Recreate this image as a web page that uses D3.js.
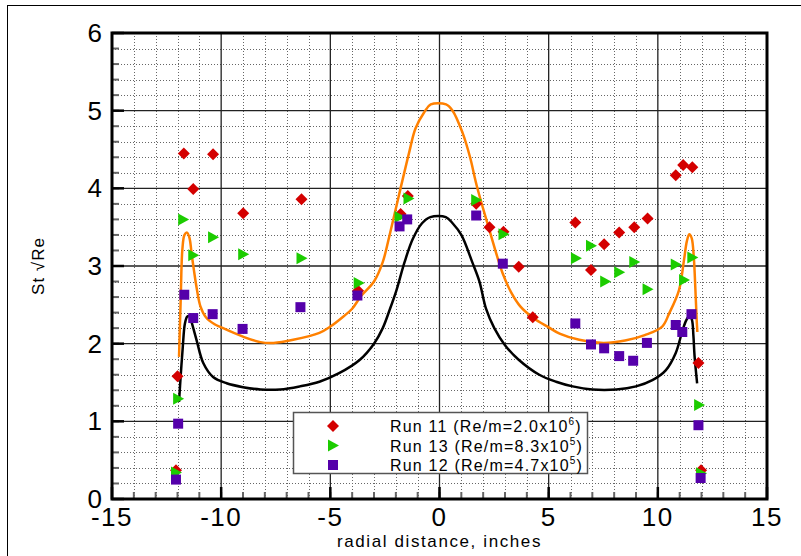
<!DOCTYPE html>
<html>
<head>
<meta charset="utf-8">
<script src="https://cdn.jsdelivr.net/npm/d3@7"></script>
<style>
  html, body { margin: 0; padding: 0; background: #fff; }
  svg { display: block; font-family: "Liberation Sans", Arial, sans-serif; }
  .tick-label { font-size: 26px; fill: #000; }
  .axis-title { font-size: 17px; fill: #000; letter-spacing: 1.6px; }
  .legend-text { font-size: 16px; fill: #000; letter-spacing: 1.2px; }
</style>
</head>
<body>
<div id="chart"></div>
<script>
// measured points, [radial distance (in), St*sqrt(Re)]
const run11 = [
  [-12.07, 0.37], [-12.0, 1.58], [-11.71, 4.45], [-11.28, 3.99], [-10.37, 4.44],
  [-8.99, 3.68], [-6.32, 3.86], [-3.73, 2.68], [-1.78, 3.67], [-1.45, 3.90],
  [1.68, 3.80], [2.29, 3.50], [2.93, 3.44], [3.63, 2.99], [4.27, 2.34],
  [6.22, 3.56], [6.94, 2.95], [7.54, 3.28], [8.23, 3.43], [8.92, 3.50],
  [9.53, 3.61], [10.82, 4.17], [11.16, 4.30], [11.58, 4.27], [11.86, 1.75],
  [11.98, 0.37]
];

const run13 = [
  [-12.07, 0.34], [-11.97, 1.29], [-11.74, 3.60], [-11.28, 3.14], [-10.37, 3.37],
  [-8.99, 3.15], [-6.32, 3.10], [-3.70, 2.78], [-1.83, 3.63], [-1.42, 3.87],
  [1.68, 3.85], [2.93, 3.41], [6.25, 3.10], [6.94, 3.26], [7.59, 2.80],
  [8.23, 2.92], [8.92, 3.05], [9.53, 2.70], [10.82, 3.02], [11.20, 2.82],
  [11.58, 3.11], [11.89, 1.21], [11.98, 0.33]
];

const run12 = [
  [-12.07, 0.25], [-11.97, 0.97], [-11.69, 2.63], [-11.28, 2.33], [-10.39, 2.38],
  [-9.02, 2.19], [-6.37, 2.47], [-3.76, 2.62], [-1.83, 3.51], [-1.48, 3.60],
  [1.68, 3.65], [2.90, 3.03], [6.22, 2.26], [6.94, 1.99], [7.54, 1.94],
  [8.23, 1.84], [8.87, 1.78], [9.50, 2.01], [10.82, 2.24], [11.12, 2.15],
  [11.54, 2.38], [11.86, 0.95], [11.96, 0.27]
];

// prediction curves
const orangeCurve = [
  [-11.93, 1.83], [-11.85, 2.6], [-11.78, 3.2], [-11.68, 3.40], [-11.56, 3.43],
  [-11.45, 3.36], [-11.35, 3.15], [-11.25, 2.95], [-11.13, 2.73], [-10.95, 2.48],
  [-10.7, 2.34], [-10.3, 2.25], [-10.0, 2.21], [-9.0, 2.09], [-8.2, 2.02],
  [-7.6, 2.01], [-6.7, 2.05], [-5.5, 2.14], [-5.0, 2.22], [-4.4, 2.35],
  [-4.0, 2.45], [-3.6, 2.61], [-3.0, 2.80], [-2.6, 3.05], [-2.3, 3.38],
  [-1.8, 3.98], [-1.4, 4.45], [-1.1, 4.77], [-0.7, 4.98], [-0.4, 5.08],
  [0.3, 5.08], [0.6, 5.00], [1.05, 4.72], [1.4, 4.40], [1.7, 4.04],
  [2.3, 3.45], [2.9, 2.90], [3.3, 2.65], [3.7, 2.48], [4.3, 2.33],
  [5.0, 2.21], [5.5, 2.13], [6.4, 2.05], [7.5, 2.01], [8.5, 2.04],
  [9.4, 2.11], [10.2, 2.22], [10.52, 2.39], [10.97, 2.69], [11.2, 3.08],
  [11.33, 3.32], [11.44, 3.41], [11.55, 3.36], [11.65, 3.1], [11.72, 2.7],
  [11.78, 2.3], [11.81, 2.15]
];

const blackCurve = [
  [-11.93, 1.25], [-11.85, 1.6], [-11.76, 1.95], [-11.66, 2.26], [-11.55, 2.35],
  [-11.45, 2.35], [-11.36, 2.28], [-11.13, 2.05], [-10.82, 1.75], [-10.37, 1.57],
  [-9.75, 1.49], [-9.0, 1.44], [-8.2, 1.41], [-7.3, 1.41], [-6.4, 1.45],
  [-5.5, 1.51], [-4.6, 1.62], [-3.66, 1.79], [-3.0, 2.0], [-2.6, 2.20],
  [-2.29, 2.43], [-1.98, 2.68], [-1.6, 3.05], [-1.22, 3.35], [-0.8, 3.55],
  [-0.42, 3.63], [0.29, 3.63], [0.6, 3.55], [1.0, 3.40], [1.5, 3.05],
  [1.83, 2.80], [2.13, 2.45], [2.51, 2.20], [3.0, 1.98], [3.6, 1.80],
  [4.57, 1.60], [5.34, 1.51], [6.1, 1.45], [7.0, 1.41], [8.1, 1.41],
  [9.0, 1.45], [9.75, 1.53], [10.37, 1.66], [10.82, 1.88], [11.13, 2.17],
  [11.3, 2.30], [11.45, 2.36], [11.56, 2.31], [11.63, 2.1], [11.68, 1.85],
  [11.8, 1.49]
];

const xMajorTicks = [-15, -10, -5, 0, 5, 10, 15];
const yMajorTicks = [0, 1, 2, 3, 4, 5, 6];

const legendRows = [
  { label: "Run 11 (Re/m=2.0x10", exp: "6", shape: "diamond", color: "#d40000" },
  { label: "Run 13 (Re/m=8.3x10", exp: "5", shape: "triangle", color: "#1ccc00" },
  { label: "Run 12 (Re/m=4.7x10", exp: "5", shape: "square", color: "#5500aa" }
];

function drawChart() {
  const width = 801;
  const height = 556;
  const margin = { top: 33, right: 34, bottom: 57, left: 112 };

  const x = d3.scaleLinear().domain([-15, 15]).range([margin.left, width - margin.right]);
  const y = d3.scaleLinear().domain([0, 6]).range([height - margin.bottom, margin.top]);

  const svg = d3.select("#chart").append("svg")
    .attr("width", width)
    .attr("height", height);

  // page frame
  svg.append("rect")
    .attr("x", 7.5).attr("y", 5.5)
    .attr("width", width).attr("height", height)
    .attr("fill", "none").attr("stroke", "#000");

  const grid = svg.append("g");

  // minor dotted grid
  grid.selectAll(".minor-x")
    .data(d3.range(-14, 15, 1).filter(function (v) { return v % 5 !== 0; }))
    .join("line")
    .attr("x1", function (d) { return Math.round(x(d)) + 0.5; })
    .attr("x2", function (d) { return Math.round(x(d)) + 0.5; })
    .attr("y1", y(6)).attr("y2", y(0))
    .attr("stroke", "#666").attr("stroke-dasharray", "1,2");

  grid.selectAll(".minor-y")
    .data(d3.range(1, 30).map(function (i) { return i * 0.2; }).filter(function (v, i) { return (i + 1) % 5 !== 0; }))
    .join("line")
    .attr("x1", x(-15)).attr("x2", x(15))
    .attr("y1", function (d) { return Math.round(y(d)) + 0.5; })
    .attr("y2", function (d) { return Math.round(y(d)) + 0.5; })
    .attr("stroke", "#666").attr("stroke-dasharray", "1,2");

  // major grid
  grid.selectAll(".major-x")
    .data([-10, -5, 0, 5, 10])
    .join("line")
    .attr("x1", function (d) { return x(d); })
    .attr("x2", function (d) { return x(d); })
    .attr("y1", y(6)).attr("y2", y(0))
    .attr("stroke", "#222").attr("stroke-width", 1.3);

  grid.selectAll(".major-y")
    .data([1, 2, 3, 4, 5])
    .join("line")
    .attr("x1", x(-15)).attr("x2", x(15))
    .attr("y1", function (d) { return y(d); })
    .attr("y2", function (d) { return y(d); })
    .attr("stroke", "#222").attr("stroke-width", 1.3);

  // ticks along the left and bottom edges
  const ticks = svg.append("g");
  ticks.selectAll(".ytick-minor")
    .data(d3.range(1, 30).map(function (i) { return i * 0.2; }))
    .join("line")
    .attr("x1", x(-15)).attr("x2", x(-15) + 7)
    .attr("y1", function (d) { return y(d); })
    .attr("y2", function (d) { return y(d); })
    .attr("stroke", "#666").attr("stroke-width", 2);
  ticks.selectAll(".ytick-major")
    .data(yMajorTicks)
    .join("line")
    .attr("x1", x(-15)).attr("x2", x(-15) + 12)
    .attr("y1", function (d) { return y(d); })
    .attr("y2", function (d) { return y(d); })
    .attr("stroke", "#000").attr("stroke-width", 2.5);
  ticks.selectAll(".xtick-minor")
    .data(d3.range(-14, 15, 1))
    .join("line")
    .attr("x1", function (d) { return x(d); })
    .attr("x2", function (d) { return x(d); })
    .attr("y1", y(0)).attr("y2", y(0) - 7)
    .attr("stroke", "#666").attr("stroke-width", 2);
  ticks.selectAll(".xtick-major")
    .data(xMajorTicks)
    .join("line")
    .attr("x1", function (d) { return x(d); })
    .attr("x2", function (d) { return x(d); })
    .attr("y1", y(0)).attr("y2", y(0) - 12)
    .attr("stroke", "#000").attr("stroke-width", 2.5);

  // curves
  const line = d3.line()
    .x(function (d) { return x(d[0]); })
    .y(function (d) { return y(d[1]); })
    .curve(d3.curveCatmullRom.alpha(0.5));

  svg.append("path").datum(orangeCurve)
    .attr("d", line)
    .attr("fill", "none").attr("stroke", "#ff8000").attr("stroke-width", 2.5);

  svg.append("path").datum(blackCurve)
    .attr("d", line)
    .attr("fill", "none").attr("stroke", "#000").attr("stroke-width", 2.5);

  // symbols
  drawMarkers(svg, run11, x, y, "diamond", "#d40000");
  drawMarkers(svg, run13, x, y, "triangle", "#1ccc00");
  drawMarkers(svg, run12, x, y, "square", "#5500aa");

  // plot frame
  svg.append("rect")
    .attr("x", x(-15)).attr("y", y(6))
    .attr("width", x(15) - x(-15)).attr("height", y(0) - y(6))
    .attr("fill", "none").attr("stroke", "#000").attr("stroke-width", 3);

  // tick labels
  svg.selectAll(".xlabel")
    .data(xMajorTicks)
    .join("text")
    .attr("class", "tick-label")
    .attr("x", function (d) { return x(d); })
    .attr("y", y(0) + 27)
    .attr("text-anchor", "middle")
    .style("letter-spacing", "1.5px")
    .text(function (d) { return d; });

  svg.selectAll(".ylabel")
    .data(yMajorTicks)
    .join("text")
    .attr("class", "tick-label")
    .attr("x", x(-15) - 10)
    .attr("y", function (d) { return y(d) + 9; })
    .attr("text-anchor", "end")
    .text(function (d) { return d; });

  svg.append("text")
    .attr("class", "axis-title")
    .attr("x", (x(-15) + x(15)) / 2)
    .attr("y", 547)
    .attr("text-anchor", "middle")
    .text("radial distance, inches");

  svg.append("text")
    .attr("class", "axis-title")
    .attr("transform", "translate(44," + y(3.0) + ") rotate(-90)")
    .attr("text-anchor", "middle")
    .style("letter-spacing", "1px")
    .text("St \u221ARe");

  drawLegend(svg);
}

function symbolPath(shape) {
  if (shape === "diamond") return "M0,-6L6,0L0,6L-6,0Z";
  if (shape === "triangle") return "M-5,-6L6,0L-5,6Z";
  return "M-5,-5L5,-5L5,5L-5,5Z";
}

function drawMarkers(svg, data, x, y, shape, color) {
  svg.append("g")
    .selectAll("path")
    .data(data)
    .join("path")
    .attr("transform", function (d) { return "translate(" + x(d[0]) + "," + y(d[1]) + ")"; })
    .attr("d", symbolPath(shape))
    .attr("fill", color);
}

function drawLegend(svg) {
  const lx = 293;
  const ly = 412;

  svg.append("rect")
    .attr("x", lx + 0.5).attr("y", ly + 0.5)
    .attr("width", 294).attr("height", 61)
    .attr("fill", "#fff").attr("stroke", "#555").attr("stroke-width", 1.5);

  const rows = svg.append("g").selectAll("g")
    .data(legendRows)
    .join("g")
    .attr("transform", function (d, i) { return "translate(" + lx + "," + (ly + 14 + i * 19.5) + ")"; });

  rows.append("path")
    .attr("transform", "translate(40,0)")
    .attr("d", function (d) { return symbolPath(d.shape); })
    .attr("fill", function (d) { return d.color; });

  const text = rows.append("text")
    .attr("class", "legend-text")
    .attr("x", 97)
    .attr("y", 6);
  text.append("tspan").text(function (d) { return d.label; });
  text.append("tspan")
    .attr("dy", -7).attr("font-size", "10px")
    .text(function (d) { return d.exp; });
  text.append("tspan")
    .attr("dy", 7)
    .text(")");
}

drawChart();
</script>
</body>
</html>
